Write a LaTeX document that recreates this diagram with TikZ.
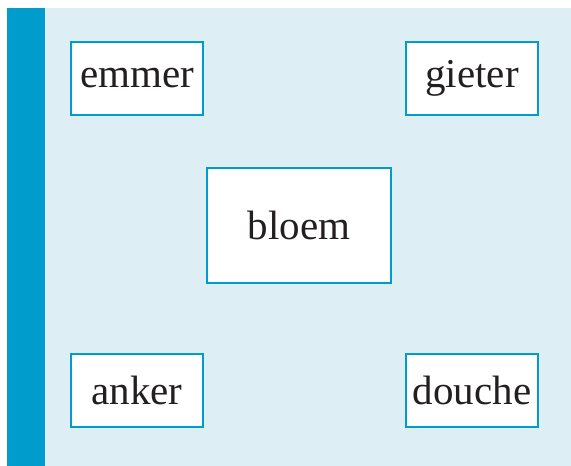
\documentclass[tikz,border=0pt]{standalone}
\usepackage{fontspec}
\setmainfont{Liberation Serif}
\definecolor{bgblue}{HTML}{DDEEF5}
\definecolor{darkblue}{HTML}{009CCB}
\definecolor{txt}{HTML}{231F20}
\begin{document}
\begin{tikzpicture}[x=1pt,y=1pt,
  wordbox/.style={draw=darkblue,line width=2.2pt,fill=white,minimum width=132pt,minimum height=73pt,inner sep=0pt,
    font=\fontsize{41}{46}\selectfont,text=txt},
  bigbox/.style={wordbox,minimum width=184pt,minimum height=115pt}]
\useasboundingbox (0,0) rectangle (571,466);
\fill[bgblue] (7,0) rectangle (571,458);
\fill[darkblue] (7,0) rectangle (45,458);
\node[wordbox] (emmer) at (137,387.5) {emmer};
\node[wordbox] (gieter) at (472,387.5) {gieter};
\node[bigbox] (bloem) at (299,240.5) {bloem};
\node[wordbox] (anker) at (137,75.5) {anker};
\node[wordbox] (douche) at (472,75.5) {douche};
\end{tikzpicture}
\end{document}
